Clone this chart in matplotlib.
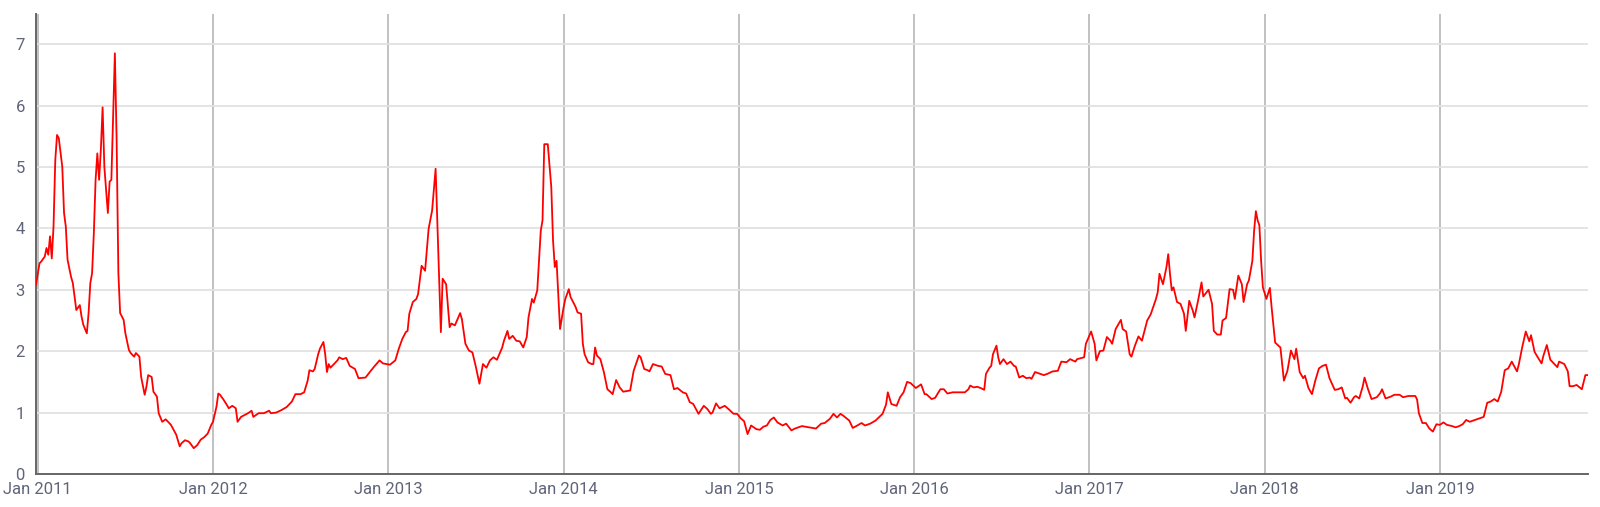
import matplotlib
matplotlib.use('Agg')
import matplotlib.pyplot as plt

plt.rcParams['font.family'] = ['Roboto', 'DejaVu Sans']

# time in decimal years
years = [
    2010.99, 2011.01, 2011.02, 2011.04, 2011.05, 2011.06, 2011.07, 2011.08, 2011.09, 2011.10,
    2011.11, 2011.12, 2011.14, 2011.15, 2011.16, 2011.17, 2011.19, 2011.20, 2011.22, 2011.24,
    2011.25, 2011.26, 2011.28, 2011.29, 2011.30, 2011.31, 2011.32, 2011.33, 2011.34, 2011.35,
    2011.36, 2011.37, 2011.38, 2011.40, 2011.41, 2011.42, 2011.43, 2011.44, 2011.45, 2011.46,
    2011.47, 2011.49, 2011.50, 2011.52, 2011.53, 2011.55, 2011.56, 2011.58, 2011.59, 2011.61,
    2011.62, 2011.63, 2011.65, 2011.66, 2011.68, 2011.69, 2011.71, 2011.73, 2011.75, 2011.76,
    2011.79, 2011.81, 2011.82, 2011.84, 2011.86, 2011.87, 2011.89, 2011.91, 2011.93, 2011.95,
    2011.97, 2011.99, 2012.00, 2012.02, 2012.03, 2012.04, 2012.06, 2012.08, 2012.09, 2012.11,
    2012.13, 2012.14, 2012.16, 2012.18, 2012.20, 2012.22, 2012.23, 2012.26, 2012.29, 2012.32,
    2012.33, 2012.36, 2012.39, 2012.42, 2012.45, 2012.47,
    2012.50, 2012.52, 2012.54, 2012.55, 2012.57, 2012.58, 2012.60, 2012.61, 2012.63, 2012.64,
    2012.65, 2012.66, 2012.67, 2012.69, 2012.71, 2012.72, 2012.74, 2012.76, 2012.78, 2012.81,
    2012.83, 2012.87, 2012.90, 2012.92, 2012.95, 2012.97,
    2013.01, 2013.04, 2013.06, 2013.08, 2013.10, 2013.11, 2013.12, 2013.14, 2013.16, 2013.17,
    2013.19, 2013.21, 2013.23, 2013.25, 2013.27, 2013.30, 2013.31, 2013.33, 2013.35, 2013.36,
    2013.38, 2013.41, 2013.42, 2013.44, 2013.46, 2013.48, 2013.50, 2013.52, 2013.54, 2013.56,
    2013.58, 2013.60, 2013.62, 2013.65, 2013.66, 2013.68, 2013.69, 2013.71, 2013.73, 2013.75,
    2013.77, 2013.79, 2013.80, 2013.82, 2013.83, 2013.85, 2013.87, 2013.88, 2013.89, 2013.91,
    2013.93, 2013.94, 2013.95, 2013.96, 2013.98, 2014.00, 2014.01, 2014.03, 2014.04, 2014.06,
    2014.07, 2014.08,
    2014.10, 2014.11, 2014.12, 2014.14, 2014.16, 2014.17, 2014.18, 2014.19, 2014.21, 2014.23,
    2014.25, 2014.27, 2014.28, 2014.30, 2014.32, 2014.34, 2014.38, 2014.40, 2014.42, 2014.43,
    2014.44, 2014.46, 2014.48, 2014.49, 2014.51, 2014.54, 2014.56, 2014.58, 2014.61, 2014.63,
    2014.65, 2014.68, 2014.70, 2014.72, 2014.74, 2014.77, 2014.80, 2014.82, 2014.84, 2014.85,
    2014.87, 2014.89, 2014.92, 2014.94, 2014.97, 2014.99, 2015.01, 2015.03, 2015.05, 2015.07,
    2015.10, 2015.12, 2015.14, 2015.16,
    2015.18, 2015.20, 2015.22, 2015.25, 2015.27, 2015.30, 2015.32, 2015.36, 2015.40, 2015.44,
    2015.47, 2015.49, 2015.52, 2015.54, 2015.56, 2015.58, 2015.60, 2015.63, 2015.65, 2015.67,
    2015.70, 2015.72, 2015.75, 2015.78, 2015.82, 2015.84, 2015.85, 2015.87, 2015.90, 2015.92,
    2015.94, 2015.96, 2015.98, 2016.01, 2016.04, 2016.06, 2016.07, 2016.10, 2016.12, 2016.15,
    2016.17, 2016.19, 2016.22, 2016.25,
    2016.29, 2016.31, 2016.32, 2016.34, 2016.36, 2016.38, 2016.40, 2016.41, 2016.43, 2016.44,
    2016.45, 2016.47, 2016.48, 2016.49, 2016.51, 2016.53, 2016.55, 2016.57, 2016.58, 2016.60,
    2016.62, 2016.64, 2016.66, 2016.67, 2016.69, 2016.71, 2016.74, 2016.76, 2016.79, 2016.82,
    2016.84, 2016.87, 2016.89, 2016.92, 2016.93, 2016.97, 2016.98, 2017.01, 2017.03, 2017.04,
    2017.06, 2017.08, 2017.10, 2017.12, 2017.13, 2017.15, 2017.18, 2017.19, 2017.21, 2017.23,
    2017.24, 2017.26, 2017.28, 2017.30, 2017.31, 2017.33, 2017.35,
    2017.37, 2017.38, 2017.39, 2017.40, 2017.42, 2017.44, 2017.45, 2017.46, 2017.47, 2017.48,
    2017.50, 2017.52, 2017.54, 2017.55, 2017.57, 2017.59, 2017.60, 2017.62, 2017.64, 2017.65,
    2017.68, 2017.70, 2017.71, 2017.73, 2017.75, 2017.76, 2017.78, 2017.80, 2017.82, 2017.83,
    2017.85, 2017.87, 2017.88, 2017.90, 2017.91, 2017.93, 2017.94, 2017.95, 2017.96, 2017.97,
    2017.98, 2017.99, 2018.01, 2018.03, 2018.04, 2018.06, 2018.09, 2018.11, 2018.13, 2018.15,
    2018.17, 2018.18,
    2018.20, 2018.22, 2018.23, 2018.25, 2018.27, 2018.29, 2018.31, 2018.33, 2018.35, 2018.37,
    2018.40, 2018.42, 2018.44, 2018.46, 2018.47, 2018.49, 2018.51, 2018.52, 2018.54, 2018.56,
    2018.57, 2018.59, 2018.61, 2018.64, 2018.66, 2018.67, 2018.69, 2018.72, 2018.74, 2018.77,
    2018.79, 2018.82, 2018.86, 2018.87, 2018.88, 2018.90, 2018.92, 2018.94, 2018.96, 2018.98,
    2019.00, 2019.02, 2019.04, 2019.07, 2019.09, 2019.11, 2019.13, 2019.15, 2019.17, 2019.20,
    2019.23, 2019.25, 2019.27, 2019.29, 2019.31, 2019.33, 2019.35, 2019.37, 2019.39, 2019.41,
    2019.44, 2019.45, 2019.47, 2019.49, 2019.51, 2019.52, 2019.54, 2019.55, 2019.58, 2019.59,
    2019.61, 2019.63, 2019.64, 2019.67, 2019.68, 2019.71, 2019.73, 2019.74, 2019.76, 2019.78,
    2019.81, 2019.83, 2019.84,
]

values = [
    3.08, 3.43, 3.46, 3.54, 3.68, 3.57, 3.87, 3.51, 4.03, 5.11,
    5.52, 5.47, 5.00, 4.25, 4.03, 3.49, 3.21, 3.11, 2.67, 2.75,
    2.56, 2.43, 2.29, 2.62, 3.11, 3.27, 3.92, 4.79, 5.22, 4.79,
    5.28, 5.97, 5.00, 4.25, 4.76, 4.79, 5.82, 6.85, 5.44, 3.27,
    2.62, 2.51, 2.29, 2.02, 1.97, 1.91, 1.97, 1.91, 1.58, 1.29,
    1.42, 1.61, 1.58, 1.34, 1.26, 0.99, 0.85, 0.89, 0.83, 0.80,
    0.64, 0.45, 0.50, 0.55, 0.53, 0.50, 0.42, 0.47, 0.56, 0.60,
    0.66, 0.80, 0.85, 1.10, 1.31, 1.29, 1.21, 1.12, 1.07, 1.11,
    1.07, 0.85, 0.93, 0.96, 0.99, 1.03, 0.93, 0.99, 0.99, 1.03,
    0.99, 1.00, 1.04, 1.09, 1.18, 1.30,
    1.30, 1.33, 1.52, 1.69, 1.67, 1.71, 1.95, 2.04, 2.15, 1.95,
    1.66, 1.79, 1.73, 1.79, 1.85, 1.90, 1.87, 1.89, 1.76, 1.71,
    1.56, 1.57, 1.68, 1.75, 1.85, 1.80,
    1.78, 1.85, 2.04, 2.20, 2.31, 2.33, 2.61, 2.80, 2.85, 2.93,
    3.39, 3.31, 3.99, 4.29, 4.97, 2.31, 3.18, 3.09, 2.39, 2.45,
    2.42, 2.62, 2.52, 2.12, 2.01, 1.98, 1.74, 1.47, 1.79, 1.73,
    1.85, 1.90, 1.86, 2.06, 2.17, 2.33, 2.20, 2.25, 2.17, 2.16,
    2.06, 2.23, 2.55, 2.85, 2.79, 2.99, 3.96, 4.13, 5.37, 5.37,
    4.67, 3.80, 3.37, 3.47, 2.36, 2.71, 2.85, 3.01, 2.88, 2.77,
    2.71, 2.63,
    2.61, 2.12, 1.95, 1.82, 1.79, 1.79, 2.06, 1.93, 1.87, 1.66,
    1.38, 1.33, 1.30, 1.53, 1.41, 1.34, 1.36, 1.68, 1.85, 1.93,
    1.90, 1.71, 1.69, 1.67, 1.79, 1.76, 1.75, 1.63, 1.61, 1.38,
    1.40, 1.33, 1.31, 1.17, 1.14, 0.98, 1.11, 1.06, 0.98, 1.00,
    1.15, 1.07, 1.11, 1.06, 0.98, 0.98, 0.91, 0.86, 0.65, 0.79,
    0.73, 0.72, 0.77, 0.79,
    0.88, 0.92, 0.84, 0.79, 0.82, 0.71, 0.74, 0.78, 0.76, 0.74,
    0.82, 0.83, 0.90, 0.98, 0.92, 0.98, 0.94, 0.87, 0.75, 0.78,
    0.83, 0.79, 0.82, 0.87, 0.98, 1.13, 1.33, 1.14, 1.11, 1.25,
    1.33, 1.50, 1.48, 1.40, 1.46, 1.30, 1.30, 1.22, 1.24, 1.38,
    1.38, 1.31, 1.33, 1.33,
    1.33, 1.38, 1.44, 1.41, 1.42, 1.40, 1.37, 1.63, 1.73, 1.76,
    1.95, 2.09, 1.90, 1.79, 1.87, 1.79, 1.83, 1.76, 1.75, 1.57,
    1.60, 1.56, 1.57, 1.55, 1.66, 1.64, 1.61, 1.63, 1.67, 1.68,
    1.83, 1.82, 1.87, 1.83, 1.87, 1.90, 2.12, 2.32, 2.12, 1.85,
    2.00, 2.01, 2.23, 2.17, 2.12, 2.36, 2.51, 2.36, 2.32, 1.95,
    1.91, 2.09, 2.24, 2.17, 2.28, 2.50, 2.60,
    2.77, 2.85, 2.96, 3.26, 3.09, 3.37, 3.58, 3.26, 2.99, 3.04,
    2.80, 2.77, 2.61, 2.33, 2.82, 2.66, 2.55, 2.82, 3.12, 2.89,
    3.00, 2.77, 2.33, 2.27, 2.27, 2.50, 2.54, 3.01, 3.00, 2.85,
    3.23, 3.09, 2.80, 3.09, 3.15, 3.47, 3.96, 4.28, 4.13, 4.05,
    3.47, 3.04, 2.85, 3.03, 2.71, 2.14, 2.06, 1.52, 1.68, 2.01,
    1.87, 2.04,
    1.66, 1.56, 1.60, 1.40, 1.30, 1.53, 1.72, 1.76, 1.78, 1.56,
    1.37, 1.38, 1.41, 1.23, 1.24, 1.16, 1.25, 1.27, 1.23, 1.43,
    1.57, 1.38, 1.22, 1.25, 1.32, 1.38, 1.23, 1.26, 1.29, 1.29,
    1.25, 1.27, 1.27, 1.21, 0.99, 0.83, 0.83, 0.74, 0.69, 0.81,
    0.80, 0.84, 0.80, 0.78, 0.76, 0.78, 0.81, 0.88, 0.85, 0.88,
    0.91, 0.93, 1.16, 1.18, 1.22, 1.18, 1.34, 1.69, 1.72, 1.83,
    1.67, 1.78, 2.07, 2.32, 2.16, 2.26, 1.99, 1.94, 1.80, 1.92,
    2.10, 1.86, 1.83, 1.74, 1.83, 1.79, 1.67, 1.43, 1.43, 1.45,
    1.38, 1.61, 1.61,
]

tick_years = [2011, 2012, 2013, 2014, 2015, 2016, 2017, 2018, 2019]
tick_labels = ['Jan ' + str(y) for y in tick_years]

label_color = '#60647a'

fig = plt.figure(figsize=(16, 5.07), dpi=100)
ax = fig.add_axes([0.0225, 0.0651, 0.97, 0.9073])

ax.plot(years, values, color='#ff0000', lw=1.3, zorder=3)

ax.set_xlim(2010.99, 2019.845)
ax.set_ylim(0, 7.49)

ax.set_yticks(range(0, 8))
ax.set_xticks(tick_years)
ax.set_xticklabels(tick_labels)

ax.grid(axis='y', color='#e2e2e2', lw=1.3, zorder=0)
ax.grid(axis='x', color='#b0b0b0', lw=1.1, zorder=1)

for side in ['top', 'right']:
    ax.spines[side].set_visible(False)
for side in ['left', 'bottom']:
    ax.spines[side].set_color('#666666')
    ax.spines[side].set_linewidth(1.4)

ax.tick_params(length=0, labelsize=12, labelcolor=label_color)
ax.tick_params(axis='y', pad=8)
ax.tick_params(axis='x', pad=6)

fig.savefig('out.png', dpi=100)
